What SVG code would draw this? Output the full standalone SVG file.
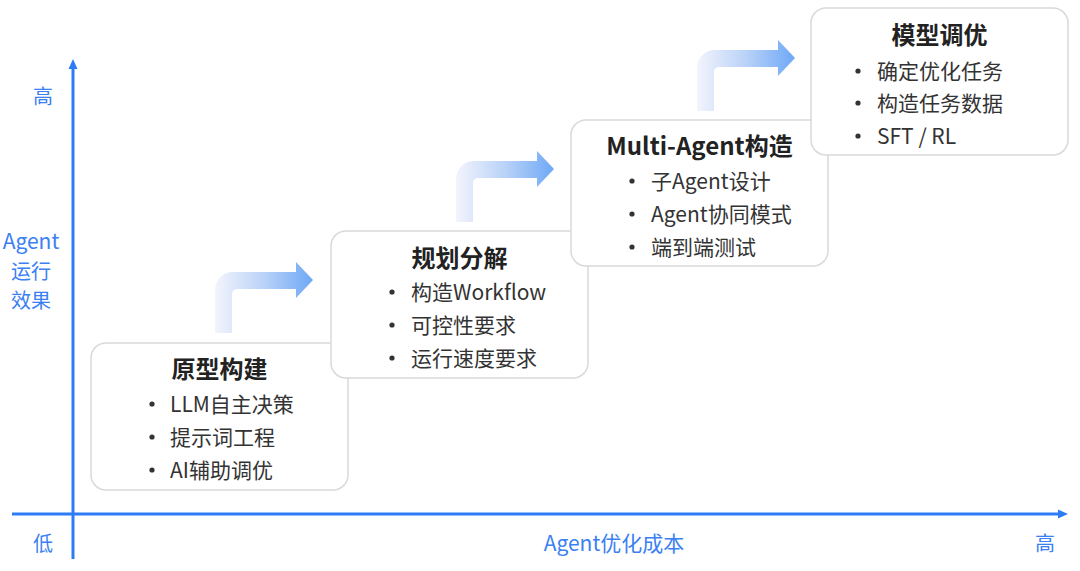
<svg xmlns="http://www.w3.org/2000/svg" width="1080" height="571" viewBox="0 0 1080 571">
<style>
  .axis{stroke:#2d7cf6;stroke-width:3;fill:none}
  .axhead{fill:#2d7cf6}
  .axlbl{font-family:"Noto Sans CJK SC","Liberation Sans",sans-serif;font-size:20px;fill:#3a80f2;text-anchor:middle;dominant-baseline:central}
  .box{fill:#ffffff;stroke:#d9d9d9;stroke-width:1.5}
  .title{font-family:"Noto Sans CJK SC","Liberation Sans",sans-serif;font-size:24px;font-weight:bold;fill:#222222;text-anchor:middle;dominant-baseline:central}
  .item{font-family:"Noto Sans CJK SC","Liberation Sans",sans-serif;font-size:21px;fill:#333333;dominant-baseline:central}
  .bul{fill:#333333}
  .step{fill:url(#grad)}
</style>
<defs>
  <linearGradient id="grad" x1="0" y1="0" x2="1" y2="0">
    <stop offset="0" stop-color="#f3f4fc"/>
    <stop offset="0.5" stop-color="#b9d2f8"/>
    <stop offset="1" stop-color="#6ea8f6"/>
  </linearGradient>
  <path id="steparrow" d="M0,0 V-43 A18,18 0 0 1 18,-61 H81 V-71 L98,-53 L81,-35 V-44 H22 A5,5 0 0 0 17,-39 V0 Z"/>
</defs>
<rect width="1080" height="571" fill="#ffffff"/>

<g id="axes">
  <line class="axis" x1="73" y1="559" x2="73" y2="67"/>
  <polygon class="axhead" points="73,59 68.5,69 77.5,69"/>
  <line class="axis" x1="12" y1="514" x2="1059" y2="514"/>
  <polygon class="axhead" points="1068,514 1058,509.5 1058,518.5"/>
  <text class="axlbl" x="43" y="95">高</text>
  <text class="axlbl" x="31" y="240" style="font-size:21px">Agent</text>
  <text class="axlbl" x="31" y="270">运行</text>
  <text class="axlbl" x="31" y="299">效果</text>
  <text class="axlbl" x="43" y="542">低</text>
  <text class="axlbl" x="614" y="542" style="font-size:21px">Agent优化成本</text>
  <text class="axlbl" x="1045" y="542">高</text>
</g>

<g id="connectors">
  <use href="#steparrow" class="step" transform="translate(215,333)"/>
  <use href="#steparrow" class="step" transform="translate(456,222)"/>
  <use href="#steparrow" class="step" transform="translate(697,111)"/>
</g>

<g id="node-prototype">
  <rect class="box" x="91" y="343" width="257" height="147" rx="15"/>
  <text class="title" x="219.5" y="367">原型构建</text>
  <circle class="bul" cx="152" cy="404" r="2.6"/><text class="item" x="170" y="403">LLM自主决策</text>
  <circle class="bul" cx="152" cy="437" r="2.6"/><text class="item" x="170" y="436">提示词工程</text>
  <circle class="bul" cx="152" cy="470" r="2.6"/><text class="item" x="170" y="469">AI辅助调优</text>
</g>

<g id="node-plan">
  <rect class="box" x="331" y="231" width="257" height="147" rx="15"/>
  <text class="title" x="459.5" y="256">规划分解</text>
  <circle class="bul" cx="392" cy="292" r="2.6"/><text class="item" x="411" y="291">构造Workflow</text>
  <circle class="bul" cx="392" cy="325" r="2.6"/><text class="item" x="411" y="324">可控性要求</text>
  <circle class="bul" cx="392" cy="358" r="2.6"/><text class="item" x="411" y="357">运行速度要求</text>
</g>

<g id="node-multi">
  <rect class="box" x="571" y="120" width="257" height="146" rx="15"/>
  <text class="title" x="699.5" y="144">Multi-Agent构造</text>
  <circle class="bul" cx="632" cy="181" r="2.6"/><text class="item" x="651" y="180">子Agent设计</text>
  <circle class="bul" cx="632" cy="214" r="2.6"/><text class="item" x="651" y="213">Agent协同模式</text>
  <circle class="bul" cx="632" cy="247" r="2.6"/><text class="item" x="651" y="246">端到端测试</text>
</g>

<g id="node-tune">
  <rect class="box" x="811" y="8" width="257" height="147" rx="15"/>
  <text class="title" x="939.5" y="33">模型调优</text>
  <circle class="bul" cx="858" cy="71" r="2.6"/><text class="item" x="877" y="70">确定优化任务</text>
  <circle class="bul" cx="858" cy="103" r="2.6"/><text class="item" x="877" y="102">构造任务数据</text>
  <circle class="bul" cx="858" cy="136" r="2.6"/><text class="item" x="877" y="135">SFT / RL</text>
</g>
</svg>
